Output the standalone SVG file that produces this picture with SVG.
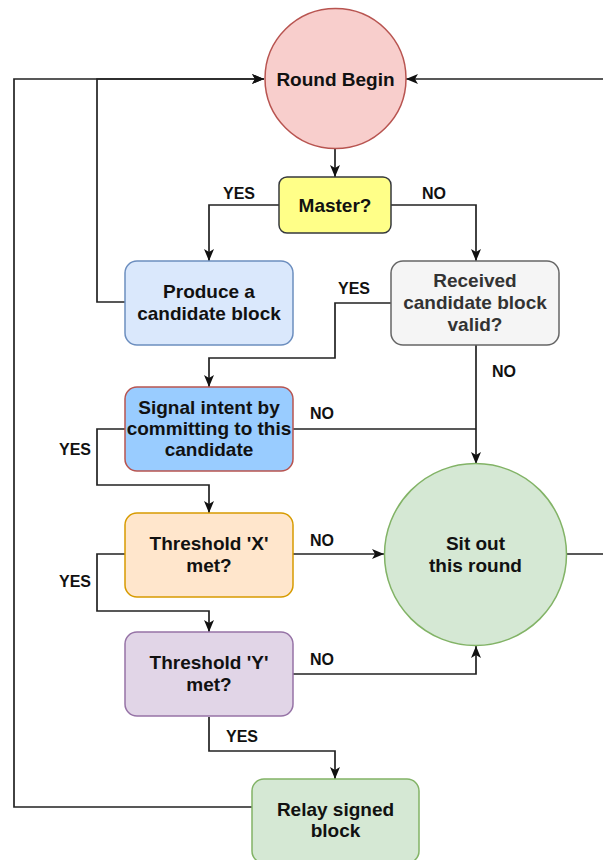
<svg xmlns="http://www.w3.org/2000/svg" width="603" height="860" viewBox="0 0 603 860">
  <defs>
    <marker id="arrow" viewBox="0 0 12 10" refX="12" refY="5" markerWidth="12" markerHeight="10" markerUnits="userSpaceOnUse" orient="auto">
      <path d="M0,0 L12,5 L0,10 L3,5 z" fill="#111"/>
    </marker>
    <style>
      .edge { fill: none; stroke: #222; stroke-width: 1.7; }
      .arr { marker-end: url(#arrow); }
      .node { stroke-width: 1.5; }
      .lbl { font-family: "Liberation Sans", Arial, sans-serif; font-weight: bold; font-size: 19px; fill: #111; text-anchor: middle; }
      .elbl { font-family: "Liberation Sans", Arial, sans-serif; font-weight: bold; font-size: 16px; fill: #111; text-anchor: middle; }
    </style>
  </defs>
  <rect width="603" height="860" fill="#ffffff"/>

  <!-- connectors -->
  <g id="connectors">
    <path class="edge arr" d="M335,149 L335,177"/>
    <path class="edge arr" d="M279,205 L209,205 L209,261"/>
    <path class="edge arr" d="M391,205 L476,205 L476,261"/>
    <path class="edge arr" d="M125,302 L97,302 L97,79 L264,79"/>
    <path class="edge arr" d="M391,303 L335,303 L335,358 L209,358 L209,387"/>
    <path class="edge arr" d="M476,345 L476,464"/>
    <path class="edge" d="M293,429 L476,429"/>
    <path class="edge arr" d="M125,429 L97,429 L97,485 L209,485 L209,513"/>
    <path class="edge arr" d="M293,554 L384,554"/>
    <path class="edge arr" d="M125,554 L97,554 L97,611 L209,611 L209,632"/>
    <path class="edge arr" d="M293,674 L476,674 L476,646"/>
    <path class="edge arr" d="M209,717 L209,751 L335,751 L335,779"/>
    <path class="edge arr" d="M252,807 L14,807 L14,79 L264,79"/>
    <path class="edge arr" d="M566,554 L615,554 L615,79 L406,79"/>

    <text class="elbl" x="239" y="199">YES</text>
    <text class="elbl" x="434" y="199">NO</text>
    <text class="elbl" x="354" y="294">YES</text>
    <text class="elbl" x="504" y="377">NO</text>
    <text class="elbl" x="322" y="419">NO</text>
    <text class="elbl" x="75" y="455">YES</text>
    <text class="elbl" x="322" y="546">NO</text>
    <text class="elbl" x="75" y="587">YES</text>
    <text class="elbl" x="322" y="665">NO</text>
    <text class="elbl" x="242" y="742">YES</text>
  </g>

  <g id="round-begin">
    <ellipse class="node" cx="335.5" cy="78.5" rx="70.5" ry="70" fill="#f8cecc" stroke="#b85450"/>
    <text class="lbl" x="335.5" y="86">Round Begin</text>
  </g>

  <g id="master">
    <rect class="node" x="279" y="177" width="112" height="56" rx="8" fill="#ffff88" stroke="#36393d"/>
    <text class="lbl" x="335" y="212">Master?</text>
  </g>

  <g id="produce">
    <rect class="node" x="125" y="261" width="168" height="84" rx="12" fill="#dae8fc" stroke="#6c8ebf"/>
    <text class="lbl" x="209" y="298">Produce a</text>
    <text class="lbl" x="209" y="320">candidate block</text>
  </g>

  <g id="received">
    <rect class="node" x="391" y="261" width="168" height="84" rx="12" fill="#f5f5f5" stroke="#666666"/>
    <text class="lbl" x="475" y="287" style="fill:#333333">Received</text>
    <text class="lbl" x="475" y="309" style="fill:#333333">candidate block</text>
    <text class="lbl" x="475" y="331" style="fill:#333333">valid?</text>
  </g>

  <g id="signal">
    <rect class="node" x="125" y="387" width="168" height="84" rx="12" fill="#99ccff" stroke="#b85450"/>
    <text class="lbl" x="209" y="414">Signal intent by</text>
    <text class="lbl" x="209" y="435">committing to this</text>
    <text class="lbl" x="209" y="456">candidate</text>
  </g>

  <g id="threshold-x">
    <rect class="node" x="125" y="513" width="168" height="84" rx="12" fill="#ffe6cc" stroke="#d79b00"/>
    <text class="lbl" x="209" y="550">Threshold 'X'</text>
    <text class="lbl" x="209" y="572">met?</text>
  </g>

  <g id="sit-out">
    <ellipse class="node" cx="475.5" cy="554.5" rx="91" ry="91" fill="#d5e8d4" stroke="#82b366"/>
    <text class="lbl" x="475.5" y="550">Sit out</text>
    <text class="lbl" x="475.5" y="572">this round</text>
  </g>

  <g id="threshold-y">
    <rect class="node" x="125" y="632" width="168" height="84" rx="12" fill="#e1d5e7" stroke="#9673a6"/>
    <text class="lbl" x="209" y="669">Threshold 'Y'</text>
    <text class="lbl" x="209" y="691">met?</text>
  </g>

  <g id="relay">
    <rect class="node" x="252" y="779" width="167" height="84" rx="12" fill="#d5e8d4" stroke="#82b366"/>
    <text class="lbl" x="335.5" y="816">Relay signed</text>
    <text class="lbl" x="335.5" y="837">block</text>
  </g>
</svg>
